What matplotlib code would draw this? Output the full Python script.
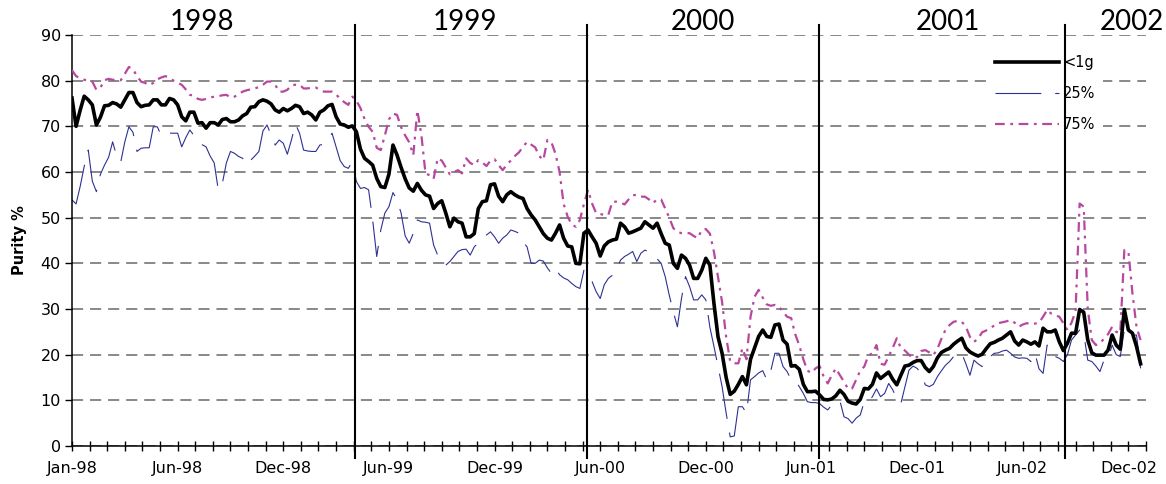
import numpy as np
import matplotlib
matplotlib.use('Agg')
from matplotlib import pyplot as plt

# weekly purity values, first week of Jan-98 onwards
under_1g = [
    76.2, 70.0, 73.5, 76.6, 75.8, 74.7, 70.3, 72.0, 74.5, 74.6,
    75.2, 74.9, 74.2, 75.8, 77.4, 77.4, 75.2, 74.3, 74.6, 74.7,
    75.8, 75.8, 74.7, 74.7, 76.1, 75.8, 74.7, 72.1, 71.2, 73.1,
    73.1, 70.7, 70.8, 69.6, 70.8, 70.8, 70.3, 71.5, 71.7, 71.0,
    71.0, 71.4, 72.3, 72.8, 74.2, 74.3, 75.4, 75.8, 75.5, 74.9,
    73.6, 73.1, 73.9, 73.4, 73.9, 74.6, 74.3, 72.8, 73.1, 72.5,
    71.4, 73.1, 73.6, 74.5, 74.8, 72.1, 70.5, 70.3, 69.8, 70.1,
    68.8, 65.0, 63.0, 62.3, 61.5, 58.6, 56.8, 56.6, 59.5, 65.9,
    63.7, 61.0, 58.5, 56.5, 55.8, 57.5, 56.0, 55.0, 54.7, 52.0,
    53.1, 53.7, 51.0, 48.0, 49.9, 49.1, 48.8, 45.8, 45.8, 46.5,
    52.0, 53.5, 53.7, 57.2, 57.4, 54.7, 53.5, 55.0, 55.7, 55.0,
    54.5, 54.2, 52.0, 50.6, 49.5, 48.0, 46.5, 45.5, 45.1, 46.6,
    48.4, 45.5, 43.8, 43.6, 40.0, 39.9, 46.6, 47.3, 45.8, 44.4,
    41.6, 43.8, 44.7, 45.1, 45.3, 48.8, 48.0, 46.6, 46.9, 47.3,
    47.7, 49.1, 48.4, 47.7, 48.8, 46.5, 44.4, 44.0, 40.0, 38.9,
    41.8, 41.1, 39.6, 36.7, 36.7, 38.5, 41.1, 39.6, 31.2, 23.9,
    20.3, 15.0, 11.3, 12.0, 13.5, 15.2, 13.4, 19.0, 21.5, 24.0,
    25.4, 24.0, 23.8, 26.5, 26.7, 23.2, 22.3, 17.5, 17.6, 16.8,
    13.5, 11.9, 11.9, 12.0, 11.2, 10.2, 10.1, 10.3, 11.0, 12.2,
    11.3, 9.8, 9.4, 9.2, 10.2, 12.6, 12.5, 13.5, 16.0, 14.8,
    15.5, 16.2, 14.6, 13.4, 15.5, 17.5, 17.7, 18.3, 18.7, 18.7,
    17.2, 16.3, 17.4, 19.3, 20.5, 21.0, 21.4, 22.3, 23.0, 23.6,
    21.5, 20.6, 20.1, 19.7, 20.1, 21.3, 22.4, 22.7, 23.2, 23.6,
    24.3, 25.0, 23.0, 22.1, 23.2, 22.8, 22.3, 22.8, 21.9, 25.8,
    25.0, 25.0, 25.4, 22.8, 20.9, 22.5, 24.7, 24.7, 29.9, 29.3,
    23.2, 20.4, 19.9, 19.9, 19.9, 21.0, 24.3, 22.1, 21.2, 29.9,
    25.4, 24.7, 21.8, 18.0,
]

pct_25 = [
    53.9, 53.0, 56.8, 61.2, 64.8, 58.0, 55.7, 59.5, 61.5, 63.2,
    66.6, 63.5, 62.2, 66.6, 69.9, 68.7, 64.5, 65.2, 65.3, 65.3,
    69.9, 69.9, 67.9, 68.3, 68.5, 68.5, 68.5, 65.5, 67.5, 69.2,
    68.0, 67.2, 66.0, 65.5, 63.5, 62.0, 56.1, 57.5, 62.0, 64.5,
    64.1, 63.4, 63.0, 61.5, 62.6, 63.5, 64.5, 69.0, 70.3, 68.1,
    65.9, 67.0, 66.3, 63.9, 67.0, 70.5, 68.5, 64.8, 64.6, 64.5,
    64.5, 65.9, 66.1, 67.0, 68.5, 65.5, 62.5, 61.2, 60.8, 62.3,
    57.9, 56.4, 56.6, 56.1, 49.5, 41.5, 47.3, 51.0, 52.4, 55.5,
    53.9, 51.0, 46.0, 44.4, 46.6, 49.5, 49.1, 49.0, 48.8, 44.0,
    41.8, 40.8, 39.6, 40.4, 41.5, 42.6, 43.0, 43.1, 41.8, 43.6,
    44.5, 45.5, 46.2, 46.9, 45.8, 44.4, 45.5, 46.2, 47.3, 47.0,
    46.6, 44.7, 43.6, 40.0, 40.0, 40.7, 40.5, 39.0, 37.8, 38.9,
    37.5, 36.8, 36.4, 35.6, 34.9, 34.5, 38.5, 37.0, 36.0, 33.8,
    32.3, 35.3, 36.7, 37.4, 38.5, 40.7, 41.5, 42.0, 42.6, 40.4,
    42.2, 42.9, 42.5, 42.2, 41.0, 40.0, 37.1, 33.0, 29.4, 26.1,
    32.3, 37.1, 34.9, 32.0, 32.0, 33.1, 32.0, 26.0, 21.8, 17.4,
    13.0, 7.2, 2.0, 2.2, 8.6, 8.6, 7.2, 14.5, 15.2, 16.0,
    16.5, 14.5, 16.5, 20.3, 20.3, 17.4, 16.3, 14.5, 14.3, 13.0,
    11.5, 9.7, 9.5, 9.5, 9.3, 8.5, 7.9, 9.0, 9.7, 9.9,
    6.4, 6.0, 5.0, 6.1, 6.8, 9.7, 9.7, 10.8, 12.5, 10.8,
    11.5, 13.7, 12.3, 10.4, 9.3, 13.0, 16.6, 17.5, 17.0, 15.9,
    13.4, 13.0, 13.5, 15.2, 16.5, 17.7, 18.5, 19.6, 19.6, 20.3,
    18.0, 15.5, 18.8, 18.0, 17.4, 19.2, 19.6, 20.3, 20.4, 20.8,
    21.0, 20.3, 19.5, 19.2, 19.3, 19.2, 18.5, 20.3, 16.9, 15.9,
    22.1, 20.5, 19.6, 19.2, 18.5, 20.0, 23.2, 24.3, 25.4, 24.7,
    18.8, 18.5, 17.5, 16.3, 18.8, 19.2, 22.1, 20.0, 19.6, 25.4,
    24.8, 24.3, 24.3, 17.0,
]

pct_75 = [
    82.3, 81.0, 80.5, 80.2, 80.0, 79.8, 78.0, 78.5, 80.1, 80.4,
    80.2, 80.1, 80.1, 81.5, 83.0, 82.5, 81.0, 79.8, 79.5, 79.0,
    79.5, 80.3, 80.7, 81.0, 80.6, 80.0, 79.5, 79.1, 78.1, 76.9,
    76.7, 76.0, 75.8, 76.0, 76.3, 76.5, 76.6, 76.8, 76.9, 76.3,
    76.5, 77.0, 77.6, 77.9, 78.1, 78.3, 78.6, 79.1, 79.8, 79.8,
    79.1, 77.6, 77.6, 78.0, 79.0, 79.1, 79.1, 78.3, 78.3, 78.5,
    78.5, 78.0, 77.6, 77.6, 77.6, 77.0, 76.0, 75.3, 74.7, 76.5,
    75.6, 74.0, 71.6, 69.9, 68.8, 65.3, 64.8, 68.0, 71.5, 72.8,
    72.5, 69.8, 68.0, 66.5, 63.7, 73.5, 68.0, 59.7, 59.3, 58.5,
    63.0, 62.5, 61.0, 59.5, 60.0, 60.4, 59.7, 63.0, 62.0, 61.5,
    62.6, 62.1, 61.3, 62.5, 62.8, 61.5, 60.4, 61.6, 62.5, 63.5,
    64.3, 65.5, 66.6, 66.0, 65.4, 63.5, 62.6, 67.0, 66.5, 64.0,
    60.0, 53.0, 50.2, 48.5, 48.0, 49.5, 53.0, 56.1, 53.1, 51.0,
    50.8, 50.6, 50.6, 53.5, 53.5, 53.3, 52.9, 54.0, 54.9, 55.0,
    54.6, 54.6, 54.0, 53.2, 54.0, 54.0, 52.0, 50.0, 47.7, 46.9,
    46.6, 46.6, 46.6, 46.0, 45.5, 47.3, 47.5, 46.5, 42.5, 37.0,
    31.5, 23.9, 18.5, 18.1, 18.1, 21.4, 19.0, 28.3, 32.7, 34.2,
    32.5, 31.0, 30.7, 30.9, 30.5, 29.4, 28.3, 28.0, 24.5, 22.0,
    19.0, 16.5, 16.0, 17.0, 17.5, 15.2, 13.7, 15.5, 17.0, 15.5,
    14.1, 12.5, 12.6, 14.5, 16.5, 17.4, 19.8, 20.3, 22.1, 18.0,
    17.8, 19.6, 21.5, 23.6, 21.4, 20.9, 20.0, 19.2, 19.5, 20.8,
    21.0, 20.5, 19.9, 21.3, 23.5, 25.5, 26.5, 27.2, 27.4, 27.2,
    26.1, 23.9, 22.8, 23.5, 24.9, 25.3, 25.8, 26.4, 26.9, 27.1,
    27.3, 27.6, 27.0, 26.1, 26.6, 26.9, 26.7, 26.8, 27.0, 28.3,
    29.8, 29.0, 28.6, 28.3, 26.9, 25.4, 27.0, 29.5, 53.1, 52.4,
    30.0, 23.2, 22.1, 22.5, 23.5, 24.5, 26.1, 25.0, 24.7, 42.9,
    42.6, 33.4, 26.1, 23.2,
]

tick_labels = ['Jan-98', 'Jun-98', 'Dec-98', 'Jun-99', 'Dec-99', 'Jun-00',
               'Dec-00', 'Jun-01', 'Dec-01', 'Jun-02', 'Dec-02']
years = ['1998', '1999', '2000', '2001', '2002']
# year boundaries marked on the chart (in weeks from Jan-98)
year_breaks = [69.6, 126.7, 183.8, 244.3]

plt.rcParams['font.family'] = 'DejaVu Sans'
plt.rcParams['lines.scale_dashes'] = False

fig = plt.figure(figsize=(11.66, 4.84), dpi=100)
ax = fig.add_axes([72/1166, 38/484, (1146-72)/1166, 411/484])

weeks = np.arange(len(under_1g))
ax.plot(weeks, pct_25, color='#2E3192', lw=0.8, dashes=(33, 10), label='25%', zorder=2)
ax.plot(weeks, pct_75, color='#B8489F', lw=1.6, dashes=(7, 4, 2, 4), label='75%', zorder=3)
ax.plot(weeks, under_1g, color='black', lw=2.6, label='<1g', zorder=4)

ax.set_xlim(0, 264.3)
ax.set_ylim(0, 90)
ax.set_yticks(np.arange(0, 91, 10))
ax.set_xticks(np.arange(0, 261, 26))
ax.set_xticklabels(tick_labels)
ax.set_xticks(np.arange(0, 264.4, 26/6), minor=True)

ax.set_axisbelow(True)
ax.yaxis.grid(True, color='#7f7f7f', lw=1.3, linestyle=(0, (8, 5)))

for s in ['top', 'right']:
    ax.spines[s].set_visible(False)
for s in ['left', 'bottom']:
    ax.spines[s].set_linewidth(1.1)

ax.tick_params(axis='y', direction='out', length=5, width=1, labelsize=11.5, pad=3)
ax.tick_params(axis='x', which='both', direction='inout', length=7, width=1, labelsize=11.5, pad=7)

ax.set_ylabel('Purity %', fontweight='bold', fontsize=10.5)
ax.yaxis.set_label_coords(-0.042, 0.5)

for wk in year_breaks:
    ax.axvline(wk, ymin=-0.029, ymax=1.024, color='black', lw=1.5, clip_on=False, zorder=6)

year_pos = [32, 96.7, 155.2, 215.7, 260.8]
for yr, wk in zip(years, year_pos):
    ax.text(wk, 1.032, yr, transform=ax.get_xaxis_transform(), ha='center', va='center',
            fontsize=20, family='Lato')

handles, labels = ax.get_legend_handles_labels()
order = [2, 0, 1]
leg = ax.legend([handles[i] for i in order], [labels[i] for i in order],
                loc='upper left', bbox_to_anchor=((988-72)/1074, (446-48)/411),
                frameon=True, fancybox=False, edgecolor='none', facecolor='white',
                framealpha=1, fontsize=10.5, handlelength=4.4, handletextpad=0.25,
                labelspacing=1.1, borderpad=0.5, borderaxespad=0)
leg.set_zorder(5)

fig.savefig('out.png', dpi=100)
